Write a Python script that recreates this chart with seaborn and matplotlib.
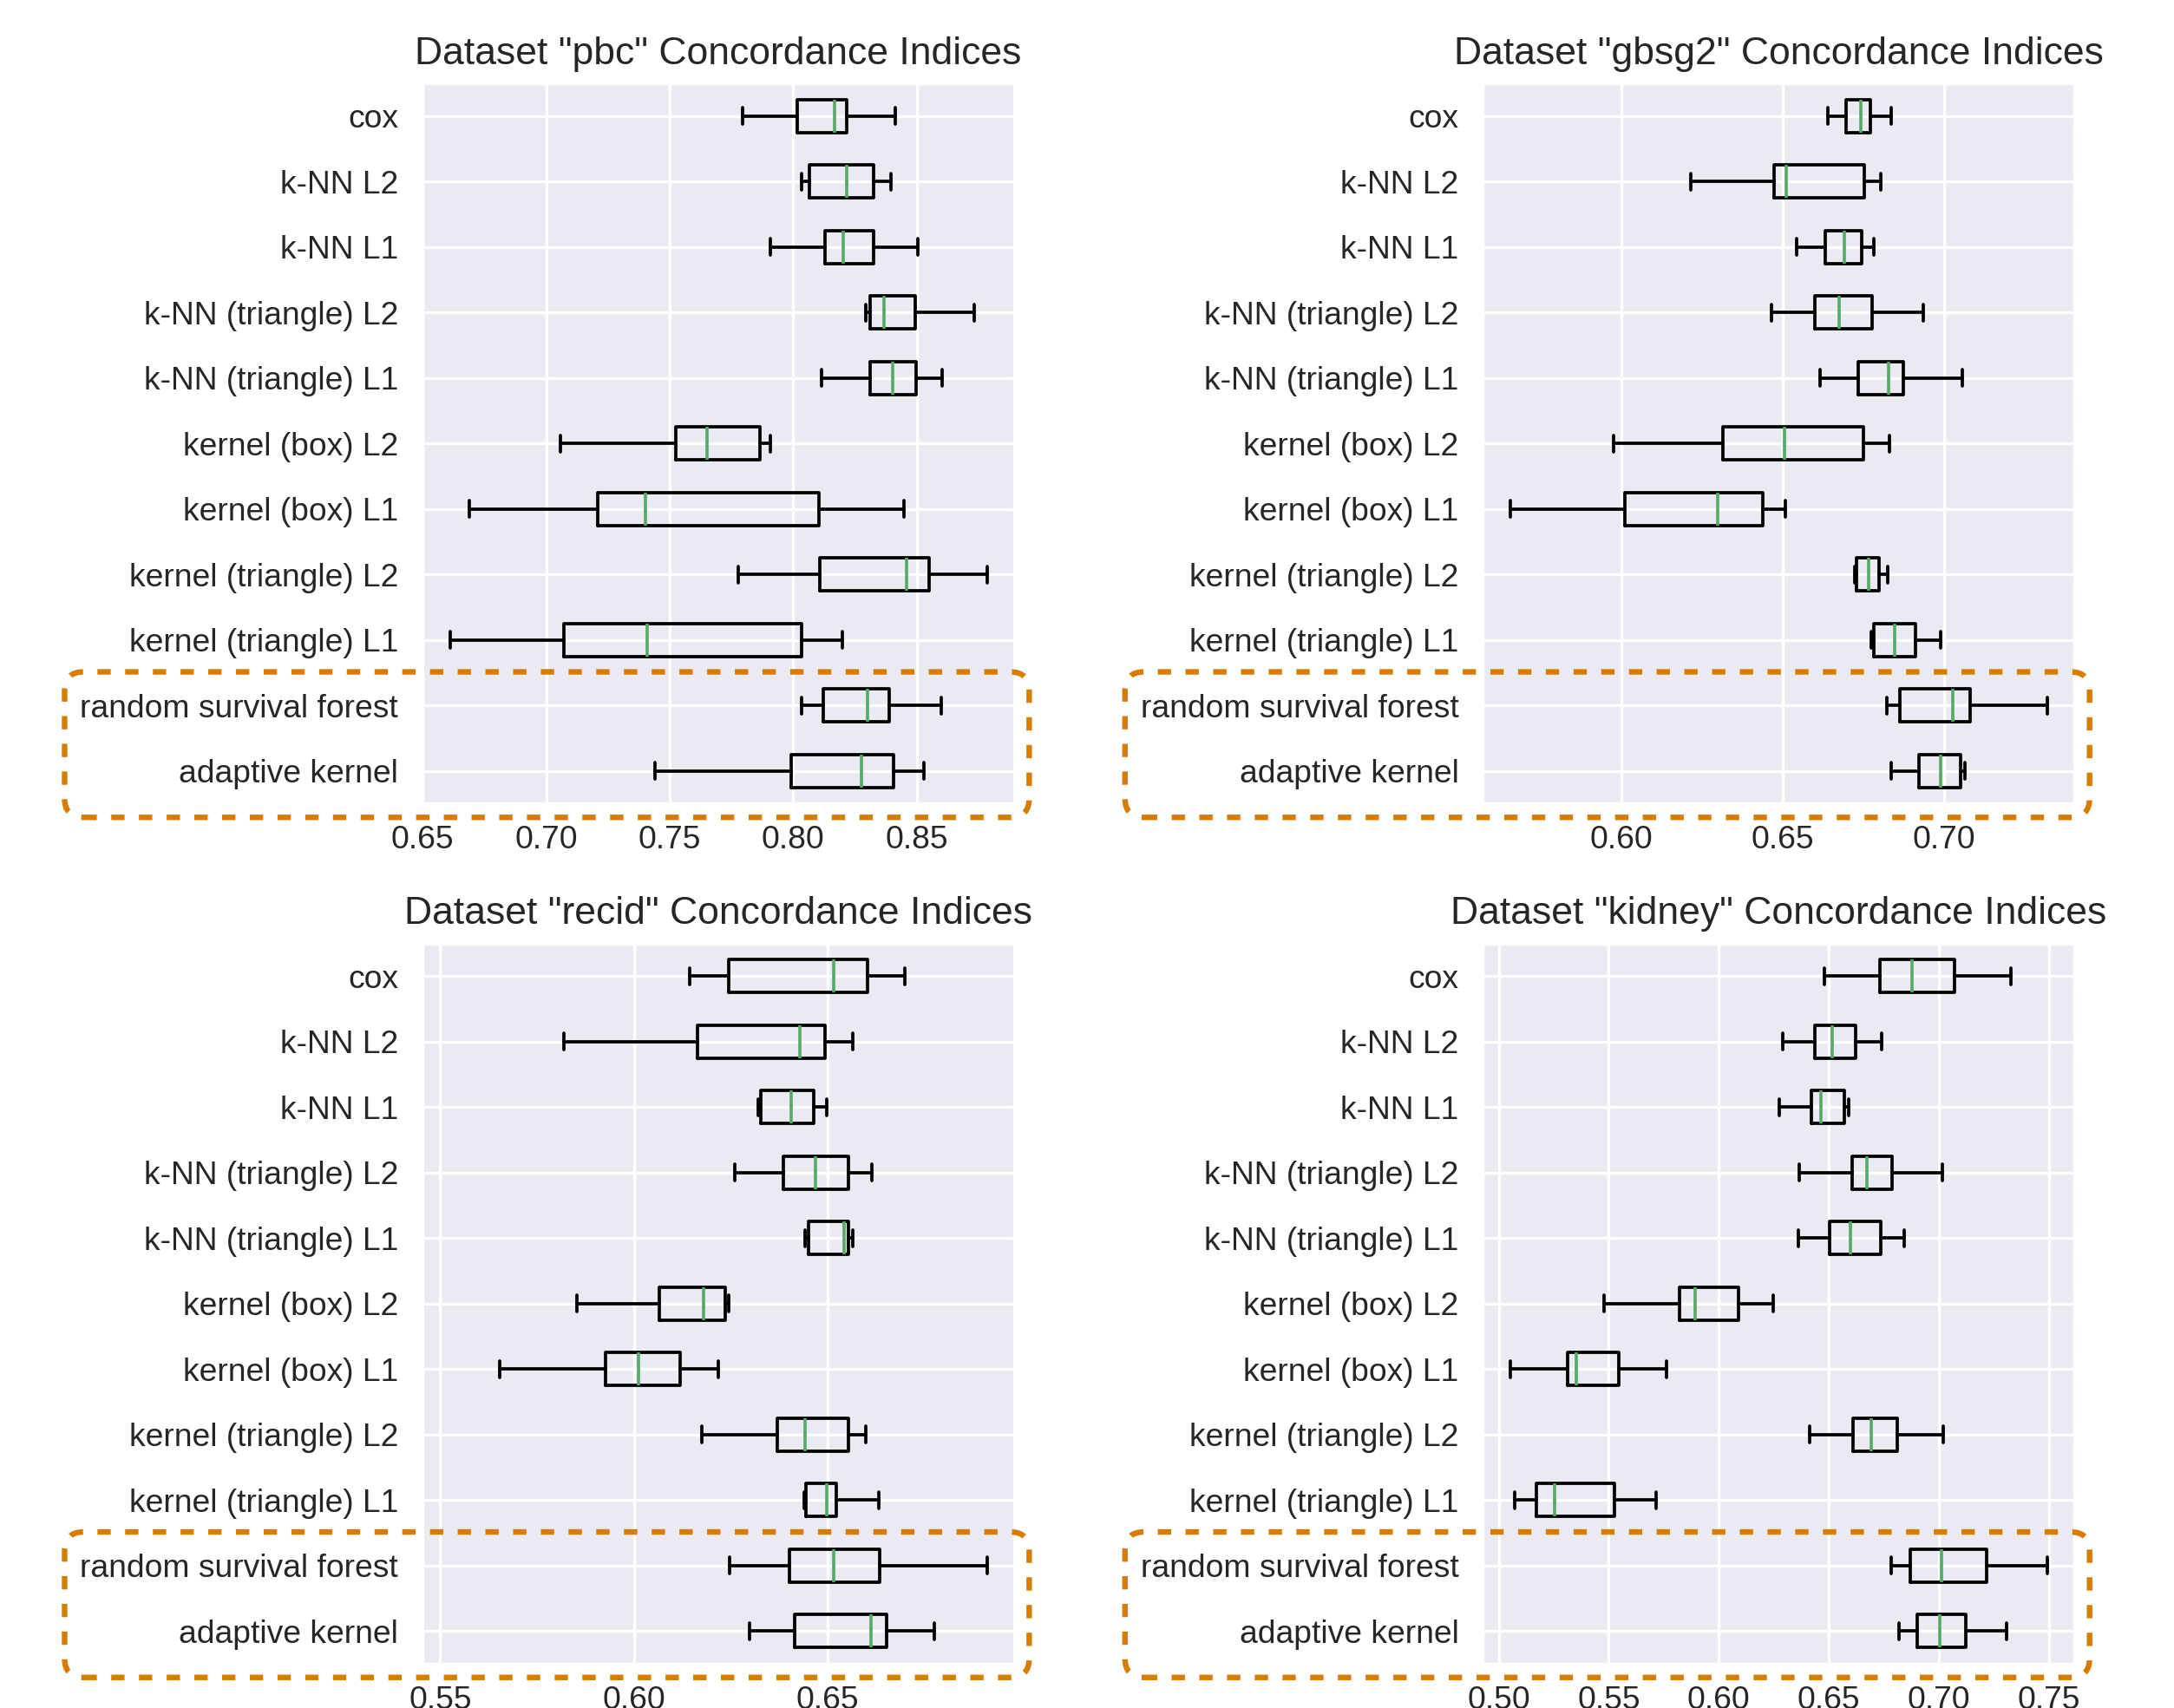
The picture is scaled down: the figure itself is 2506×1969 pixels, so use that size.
import numpy as np
import matplotlib
matplotlib.use('Agg')
import matplotlib.pyplot as plt
from matplotlib.patches import FancyBboxPatch
from matplotlib.ticker import MultipleLocator, FormatStrFormatter
import seaborn as sns

methods = ['cox', 'k-NN L2', 'k-NN L1', 'k-NN (triangle) L2', 'k-NN (triangle) L1',
           'kernel (box) L2', 'kernel (box) L1', 'kernel (triangle) L2',
           'kernel (triangle) L1', 'random survival forest', 'adaptive kernel']
datasets = ['pbc', 'gbsg2', 'recid', 'kidney']

# box summaries: whisker low, q1, median, q3, whisker high
pbc_lo = [0.7795, 0.8034, 0.7907, 0.8295, 0.8116, 0.7058, 0.6690, 0.7779, 0.6610, 0.8034, 0.7441]
pbc_q1 = [0.8015, 0.8065, 0.8129, 0.8311, 0.8313, 0.7526, 0.7208, 0.8108, 0.7072, 0.8123, 0.7993]
pbc_med = [0.8166, 0.8216, 0.8202, 0.8369, 0.8403, 0.7650, 0.7401, 0.8458, 0.7410, 0.8301, 0.8277]
pbc_q3 = [0.8218, 0.8326, 0.8326, 0.8493, 0.8498, 0.7864, 0.8105, 0.8549, 0.8034, 0.8388, 0.8406]
pbc_hi = [0.8413, 0.8396, 0.8504, 0.8731, 0.8604, 0.7906, 0.8449, 0.8784, 0.8200, 0.8601, 0.8528]

gbsg2_lo = [0.6640, 0.6214, 0.6543, 0.6466, 0.6616, 0.5977, 0.5656, 0.6723, 0.6775, 0.6823, 0.6836]
gbsg2_q1 = [0.6696, 0.6473, 0.6632, 0.6599, 0.6735, 0.6314, 0.6012, 0.6728, 0.6783, 0.6863, 0.6922]
gbsg2_med = [0.6743, 0.6510, 0.6691, 0.6675, 0.6828, 0.6506, 0.6299, 0.6765, 0.6846, 0.7027, 0.6989]
gbsg2_q3 = [0.6772, 0.6754, 0.6745, 0.6776, 0.6874, 0.6751, 0.6438, 0.6798, 0.6911, 0.7081, 0.7052]
gbsg2_hi = [0.6836, 0.6805, 0.6783, 0.6935, 0.7057, 0.6830, 0.6509, 0.6825, 0.6989, 0.7319, 0.7064]

recid_lo = [0.6144, 0.5819, 0.6320, 0.6260, 0.6442, 0.5852, 0.5653, 0.6175, 0.6439, 0.6248, 0.6299]
recid_q1 = [0.6244, 0.6165, 0.6327, 0.6385, 0.6452, 0.6065, 0.5926, 0.6371, 0.6444, 0.6401, 0.6416]
recid_med = [0.6515, 0.6428, 0.6407, 0.6469, 0.6543, 0.6179, 0.6011, 0.6441, 0.6497, 0.6517, 0.6612]
recid_q3 = [0.6604, 0.6494, 0.6465, 0.6553, 0.6553, 0.6237, 0.6120, 0.6553, 0.6523, 0.6635, 0.6652]
recid_hi = [0.6699, 0.6566, 0.6497, 0.6615, 0.6566, 0.6245, 0.6217, 0.6598, 0.6633, 0.6912, 0.6776]

kidney_lo = [0.6481, 0.6292, 0.6273, 0.6367, 0.6360, 0.5477, 0.5052, 0.6414, 0.5072, 0.6781, 0.6819]
kidney_q1 = [0.6731, 0.6438, 0.6422, 0.6604, 0.6503, 0.5822, 0.5312, 0.6609, 0.5173, 0.6871, 0.6900]
kidney_med = [0.6877, 0.6516, 0.6465, 0.6674, 0.6597, 0.5892, 0.5352, 0.6691, 0.5255, 0.7012, 0.7005]
kidney_q3 = [0.7070, 0.6622, 0.6570, 0.6788, 0.6734, 0.6091, 0.5544, 0.6812, 0.5524, 0.7218, 0.7121]
kidney_hi = [0.7328, 0.6740, 0.6590, 0.7014, 0.6841, 0.6245, 0.5762, 0.7018, 0.5714, 0.7491, 0.7305]

summaries = {
    'pbc': (pbc_lo, pbc_q1, pbc_med, pbc_q3, pbc_hi),
    'gbsg2': (gbsg2_lo, gbsg2_q1, gbsg2_med, gbsg2_q3, gbsg2_hi),
    'recid': (recid_lo, recid_q1, recid_med, recid_q3, recid_hi),
    'kidney': (kidney_lo, kidney_q1, kidney_med, kidney_q3, kidney_hi),
}
xlims = [(0.6499, 0.8893), (0.5571, 0.7403), (0.5454, 0.6981), (0.4928, 0.7614)]

sns.set_theme(style='darkgrid')
plt.rcParams['font.family'] = ['Liberation Sans', 'DejaVu Sans']
plt.rcParams['grid.linewidth'] = 1.2

fig, axes = plt.subplots(2, 2, figsize=(12.53, 9.845), dpi=200)
plt.subplots_adjust(left=0.1943, right=0.9541, top=0.9512, bottom=0.0259,
                    wspace=0.793, hspace=0.194)

line = dict(color='black', linewidth=1.35)
for ax, name, lim in zip(axes.flat, datasets, xlims):
    lo, q1, med, q3, hi = summaries[name]
    stats = [dict(label=m, whislo=a, q1=b, med=c, q3=d, whishi=e, fliers=[])
             for m, a, b, c, d, e in zip(methods, lo, q1, med, q3, hi)]
    ax.bxp(stats, positions=np.arange(len(methods), 0, -1), orientation='horizontal',
           showfliers=False, boxprops=line, whiskerprops=line, capprops=line,
           medianprops=dict(color='#55a868', linewidth=1.3))
    ax.set_xlim(lim)
    ax.xaxis.set_major_locator(MultipleLocator(0.05))
    ax.xaxis.set_major_formatter(FormatStrFormatter('%.2f'))
    ax.tick_params(axis='both', length=0, labelsize=13.4)
    ax.tick_params(axis='x', pad=9)
    ax.tick_params(axis='y', pad=10)
    ax.set_title('Dataset "%s" Concordance Indices' % name, fontsize=16, pad=8)

    # dashed rounded frame around the two highlighted methods
    aspect = ax.bbox.width / ax.bbox.height
    frame = FancyBboxPatch((-0.605, -0.019), 1.631, 0.202,
                           boxstyle='round,pad=0,rounding_size=0.032',
                           mutation_aspect=aspect, transform=ax.transAxes,
                           fill=False, edgecolor='#d87c00', linewidth=2.3,
                           linestyle=(0, (2.4, 2.6)), capstyle='butt',
                           clip_on=False, zorder=10)
    ax.add_patch(frame)

plt.savefig('out.png', dpi=200)
